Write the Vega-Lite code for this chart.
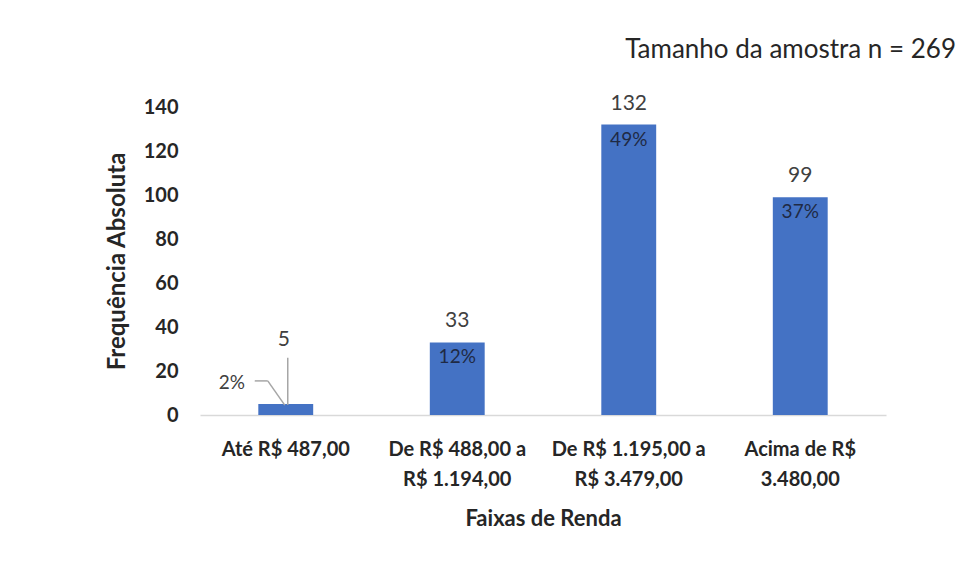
{
  "$schema": "https://vega.github.io/schema/vega-lite/v6.json",
  "width": 686,
  "height": 308,
  "autosize": {"type": "none"},
  "padding": {"left": 200, "top": 107, "right": 78, "bottom": 169},
  "background": "white",
  "config": {
    "font": "Lato",
    "view": {"stroke": null}
  },
  "title": {
    "text": "Tamanho da amostra n = 269",
    "anchor": "end",
    "frame": "group",
    "orient": "top",
    "dx": 70,
    "offset": 30,
    "fontSize": 26,
    "fontWeight": "normal",
    "color": "#262626",
    "font": "Lato"
  },
  "datasets": {
    "bars": [
      {"faixa": "Até R$ 487,00", "freq": 5, "pct": "2%"},
      {"faixa": "De R$ 488,00 a|R$ 1.194,00", "freq": 33, "pct": "12%"},
      {"faixa": "De R$ 1.195,00 a|R$ 3.479,00", "freq": 132, "pct": "49%"},
      {"faixa": "Acima de R$|3.480,00", "freq": 99, "pct": "37%"}
    ],
    "leader": [
      {"faixa": "Até R$ 487,00", "y1": 26, "y2": 4.5}
    ],
    "leaderH": [
      {"faixa": "Até R$ 487,00", "y1": 15.5, "y2": 15.5}
    ],
    "leaderD": [
      {"faixa": "Até R$ 487,00", "y1": 15.5, "y2": 4.5}
    ],
    "smallLabels": [
      {"faixa": "Até R$ 487,00", "v": 34, "label": "5"}
    ],
    "smallPct": [
      {"faixa": "Até R$ 487,00", "v": 14.5, "label": "2%"}
    ]
  },
  "encoding": {
    "x": {
      "field": "faixa",
      "type": "nominal",
      "sort": null,
      "scale": {"paddingInner": 0.68, "paddingOuter": 0.34},
      "axis": {
        "title": "Faixas de Renda",
        "titleFontSize": 22,
        "titleFontWeight": "bold",
        "titleColor": "#262626",
        "titlePadding": 19,
        "labelAngle": 0,
        "labelFontSize": 20,
        "labelFontWeight": "bold",
        "labelColor": "#262626",
        "labelPadding": 24,
        "labelLineHeight": 30,
        "labelExpr": "split(datum.label, '|')",
        "ticks": false,
        "domainColor": "#D9D9D9",
        "domainWidth": 1.5,
        "grid": false
      }
    }
  },
  "layer": [
    {
      "data": {"name": "bars"},
      "mark": {"type": "bar", "color": "#4472C4"},
      "encoding": {
        "y": {
          "field": "freq",
          "type": "quantitative",
          "scale": {"domain": [0, 140]},
          "axis": {
            "title": "Frequência Absoluta",
            "titleFontSize": 24,
            "titleFontWeight": "bold",
            "titleColor": "#262626",
            "titlePadding": 14,
            "values": [0, 20, 40, 60, 80, 100, 120, 140],
            "labelFontSize": 20,
            "labelFontWeight": "bold",
            "labelColor": "#262626",
            "labelPadding": 22,
            "ticks": false,
            "domain": false,
            "grid": false
          }
        }
      }
    },
    {
      "data": {"name": "bars"},
      "transform": [{"filter": "datum.freq > 10"}],
      "mark": {"type": "text", "baseline": "alphabetic", "dy": -15, "fontSize": 21, "color": "#404040"},
      "encoding": {
        "y": {"field": "freq", "type": "quantitative"},
        "text": {"field": "freq", "type": "quantitative"}
      }
    },
    {
      "data": {"name": "bars"},
      "transform": [{"filter": "datum.freq > 10"}],
      "mark": {"type": "text", "baseline": "top", "dy": 6, "fontSize": 19, "color": "#1F2A44"},
      "encoding": {
        "y": {"field": "freq", "type": "quantitative"},
        "text": {"field": "pct", "type": "nominal"}
      }
    },
    {
      "data": {"name": "leader"},
      "mark": {"type": "rule", "color": "#A6A6A6", "strokeWidth": 1.5, "xOffset": 2, "x2Offset": 2},
      "encoding": {
        "y": {"field": "y1", "type": "quantitative"},
        "y2": {"field": "y2"}
      }
    },
    {
      "data": {"name": "leaderH"},
      "mark": {"type": "rule", "color": "#A6A6A6", "strokeWidth": 1.5, "xOffset": -31, "x2Offset": -18},
      "encoding": {
        "x2": {"field": "faixa"},
        "y": {"field": "y1", "type": "quantitative"},
        "y2": {"field": "y2"}
      }
    },
    {
      "data": {"name": "leaderD"},
      "mark": {"type": "rule", "color": "#A6A6A6", "strokeWidth": 1.5, "xOffset": -18, "x2Offset": -1},
      "encoding": {
        "x2": {"field": "faixa"},
        "y": {"field": "y1", "type": "quantitative"},
        "y2": {"field": "y2"}
      }
    },
    {
      "data": {"name": "smallLabels"},
      "mark": {"type": "text", "baseline": "middle", "fontSize": 21, "color": "#404040", "dx": -2},
      "encoding": {
        "y": {"field": "v", "type": "quantitative"},
        "text": {"field": "label", "type": "nominal"}
      }
    },
    {
      "data": {"name": "smallPct"},
      "mark": {"type": "text", "baseline": "middle", "fontSize": 19, "color": "#404040", "dx": -54},
      "encoding": {
        "y": {"field": "v", "type": "quantitative"},
        "text": {"field": "label", "type": "nominal"}
      }
    }
  ]
}
